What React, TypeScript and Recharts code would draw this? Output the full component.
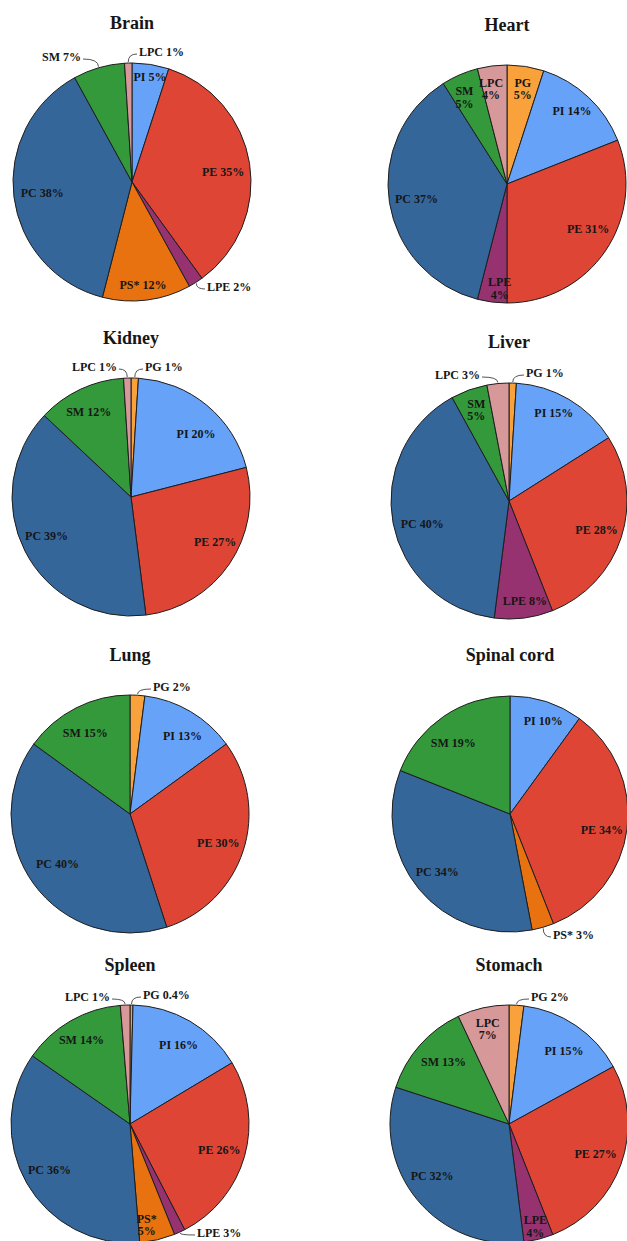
import React from 'react';
import { PieChart, Pie, Cell } from 'recharts';

// ---------- DATA ----------
const brainNames = ['PI', 'PE', 'LPE', 'PS*', 'PC', 'SM', 'LPC'];
const brainValues = [5, 35, 2, 12, 38, 7, 1];
const brainPct = ['5%', '35%', '2%', '12%', '38%', '7%', '1%'];

const heartNames = ['PG', 'PI', 'PE', 'LPE', 'PC', 'SM', 'LPC'];
const heartValues = [5, 14, 31, 4, 37, 5, 4];
const heartPct = ['5%', '14%', '31%', '4%', '37%', '5%', '4%'];

const kidneyNames = ['PG', 'PI', 'PE', 'PC', 'SM', 'LPC'];
const kidneyValues = [1, 20, 27, 39, 12, 1];
const kidneyPct = ['1%', '20%', '27%', '39%', '12%', '1%'];

const liverNames = ['PG', 'PI', 'PE', 'LPE', 'PC', 'SM', 'LPC'];
const liverValues = [1, 15, 28, 8, 40, 5, 3];
const liverPct = ['1%', '15%', '28%', '8%', '40%', '5%', '3%'];

const lungNames = ['PG', 'PI', 'PE', 'PC', 'SM'];
const lungValues = [2, 13, 30, 40, 15];
const lungPct = ['2%', '13%', '30%', '40%', '15%'];

const spinalNames = ['PI', 'PE', 'PS*', 'PC', 'SM'];
const spinalValues = [10, 34, 3, 34, 19];
const spinalPct = ['10%', '34%', '3%', '34%', '19%'];

const spleenNames = ['PG', 'PI', 'PE', 'LPE', 'PS*', 'PC', 'SM', 'LPC'];
const spleenValues = [0.4, 16, 26, 1.5, 4.8, 36, 14, 1.3];
const spleenPct = ['0.4%', '16%', '26%', '3%', '5%', '36%', '14%', '1%'];

const stomachNames = ['PG', 'PI', 'PE', 'LPE', 'PC', 'SM', 'LPC'];
const stomachValues = [2, 15, 27, 4, 32, 13, 7];
const stomachPct = ['2%', '15%', '27%', '4%', '32%', '13%', '7%'];

// ---------- STYLE / LAYOUT ----------
const COLORS: Record<string, string> = {
  PG: '#F9A13A',
  PI: '#66A3F8',
  PE: '#DE4535',
  LPE: '#963270',
  'PS*': '#E8720F',
  PC: '#35669A',
  SM: '#33993A',
  LPC: '#D69898',
};

type LabelCfg = { r?: number; da?: number; stack?: boolean; out?: [number, number]; anchor?: 'start' | 'end' };
type ChartCfg = {
  title: string;
  names: string[];
  values: number[];
  pct: string[];
  cx: number;
  cy: number;
  R: number;
  labels: Record<string, LabelCfg>;
};

const CHARTS: ChartCfg[] = [
  {
    title: 'Brain', names: brainNames, values: brainValues, pct: brainPct, cx: 132, cy: 182, R: 119,
    labels: {
      PI: { r: 0.895, da: 0.7 }, PE: { r: 0.77, da: 2.7 }, 'PS*': { r: 0.87, da: 1.1 }, PC: { r: 0.76, da: 0.2 },
      LPE: { out: [75, 105], anchor: 'start' }, SM: { out: [-51, -125], anchor: 'end' }, LPC: { out: [7, -130], anchor: 'start' },
    },
  },
  {
    title: 'Heart', names: heartNames, values: heartValues, pct: heartPct, cx: 507, cy: 184, R: 119,
    labels: {
      PG: { r: 0.81, da: 0.4, stack: true }, PI: { r: 0.82, da: -1.5 }, PE: { r: 0.78, da: -5.2 },
      LPE: { r: 0.88, da: -3.2, stack: true }, PC: { r: 0.77, da: 0 }, SM: { r: 0.81, da: -2.8, stack: true },
      LPC: { r: 0.81, da: -2.3, stack: true },
    },
  },
  {
    title: 'Kidney', names: kidneyNames, values: kidneyValues, pct: kidneyPct, cx: 131, cy: 497, R: 119,
    labels: {
      PI: { r: 0.76, da: 6.4 }, PE: { r: 0.8, da: -6.3 }, PC: { r: 0.78, da: 2.4 }, SM: { r: 0.8, da: -1.2 },
      LPC: { out: [-14, -130], anchor: 'end' }, PG: { out: [14, -130], anchor: 'start' },
    },
  },
  {
    title: 'Liver', names: liverNames, values: liverValues, pct: liverPct, cx: 509, cy: 501, R: 118,
    labels: {
      PI: { r: 0.84, da: -3.7 }, PE: { r: 0.78, da: 0 }, LPE: { r: 0.86, da: -1.8 }, PC: { r: 0.76, da: -4 },
      SM: { r: 0.82, da: 0, stack: true }, LPC: { out: [-29, -126], anchor: 'end' }, PG: { out: [17, -128], anchor: 'start' },
    },
  },
  {
    title: 'Lung', names: lungNames, values: lungValues, pct: lungPct, cx: 130, cy: 814, R: 119,
    labels: {
      PI: { r: 0.79, da: 3.3 }, PE: { r: 0.78, da: 0 }, PC: { r: 0.74, da: 1.5 }, SM: { r: 0.78, da: -1.8 },
      PG: { out: [23, -127], anchor: 'start' },
    },
  },
  {
    title: 'Spinal cord', names: spinalNames, values: spinalValues, pct: spinalPct, cx: 510, cy: 814, R: 118,
    labels: {
      PI: { r: 0.84, da: 1.6 }, PE: { r: 0.79, da: 2.7 }, PC: { r: 0.79, da: 1 }, SM: { r: 0.77, da: -4.4 },
      'PS*': { out: [43, 121], anchor: 'start' },
    },
  },
  {
    title: 'Spleen', names: spleenNames, values: spleenValues, pct: spleenPct, cx: 130, cy: 1124, R: 119,
    labels: {
      PI: { r: 0.78, da: 1.3 }, PE: { r: 0.78, da: 0 }, 'PS*': { r: 0.86, da: 3.9, stack: true }, PC: { r: 0.78, da: 0 },
      SM: { r: 0.82, da: 0 }, LPC: { out: [-20, -127], anchor: 'end' }, PG: { out: [13, -129], anchor: 'start' },
      LPE: { out: [67, 109], anchor: 'start' },
    },
  },
  {
    title: 'Stomach', names: stomachNames, values: stomachValues, pct: stomachPct, cx: 509, cy: 1124, R: 119,
    labels: {
      PI: { r: 0.77, da: 2.7 }, PE: { r: 0.77, da: -0.8 }, LPE: { r: 0.89, da: 0, stack: true }, PC: { r: 0.78, da: 5.5 },
      SM: { r: 0.76, da: 2.3 }, LPC: { r: 0.82, da: 0, stack: true }, PG: { out: [22, -127], anchor: 'start' },
    },
  },
];

const FONT = "'Liberation Serif', 'Times New Roman', serif";
const RAD = Math.PI / 180;

const makeLabel = (cfg: ChartCfg) => (p: any) => {
  const { cx, cy, midAngle, outerRadius, index } = p;
  const name = cfg.names[index];
  const pct = cfg.pct[index];
  const L = cfg.labels[name] || {};
  const common = { fontFamily: FONT, fontSize: 12, fontWeight: 700, fill: '#161616' } as any;
  if (L.out) {
    const tx = cx + L.out[0];
    const ty = cy + L.out[1];
    const ex = cx + (outerRadius + 1) * Math.cos(-midAngle * RAD);
    const ey = cy + (outerRadius + 1) * Math.sin(-midAngle * RAD);
    const sx = L.anchor === 'end' ? tx + 2 : tx - 2;
    const d = `M${sx},${ty + 2} Q${ex},${ty + 2} ${ex},${ey}`;
    return (
      <g>
        <path d={d} stroke="#555" strokeWidth={1} fill="none" />
        <text x={tx} y={ty} dy="0.35em" textAnchor={L.anchor} {...common}>
          {`${name} ${pct}`}
        </text>
      </g>
    );
  }
  const a = midAngle - (L.da || 0);
  const rr = outerRadius * (L.r ?? 0.77);
  const x = cx + rr * Math.cos(-a * RAD);
  const y = cy + rr * Math.sin(-a * RAD);
  if (L.stack) {
    return (
      <text x={x} y={y} textAnchor="middle" {...common}>
        <tspan x={x} y={y - 6.3} dy="0.35em">{name}</tspan>
        <tspan x={x} y={y + 6.3} dy="0.35em">{pct}</tspan>
      </text>
    );
  }
  return (
    <text x={x} y={y} dy="0.35em" textAnchor="middle" {...common}>
      {`${name} ${pct}`}
    </text>
  );
};

export default function App() {
  return (
    <div style={{ position: 'absolute', left: 0, top: 0, width: 627, height: 1241, background: '#fff', overflow: 'hidden' }}>
      <PieChart width={627} height={1241} margin={{ top: 0, right: 0, bottom: 0, left: 0 }}>
        {CHARTS.map((c) => (
          <Pie
            key={c.title}
            data={c.names.map((n, i) => ({ name: n, value: c.values[i] }))}
            dataKey="value"
            nameKey="name"
            cx={c.cx}
            cy={c.cy}
            outerRadius={c.R}
            innerRadius={0}
            startAngle={90}
            endAngle={-270}
            stroke="#1e1e1e"
            strokeWidth={1}
            isAnimationActive={false}
            labelLine={false}
            label={makeLabel(c)}
          >
            {c.names.map((n) => (
              <Cell key={n} fill={COLORS[n]} stroke="#1e1e1e" strokeWidth={1} />
            ))}
          </Pie>
        ))}
      </PieChart>
      {CHARTS.map((c) => (
        <div
          key={c.title + '-t'}
          style={{
            position: 'absolute',
            left: c.cx,
            top: c.cy - 159,
            transform: 'translate(-50%, -50%)',
            fontFamily: FONT,
            fontWeight: 700,
            fontSize: 18,
            lineHeight: '20px',
            whiteSpace: 'nowrap',
            color: '#161616',
          }}
        >
          {c.title}
        </div>
      ))}
    </div>
  );
}
